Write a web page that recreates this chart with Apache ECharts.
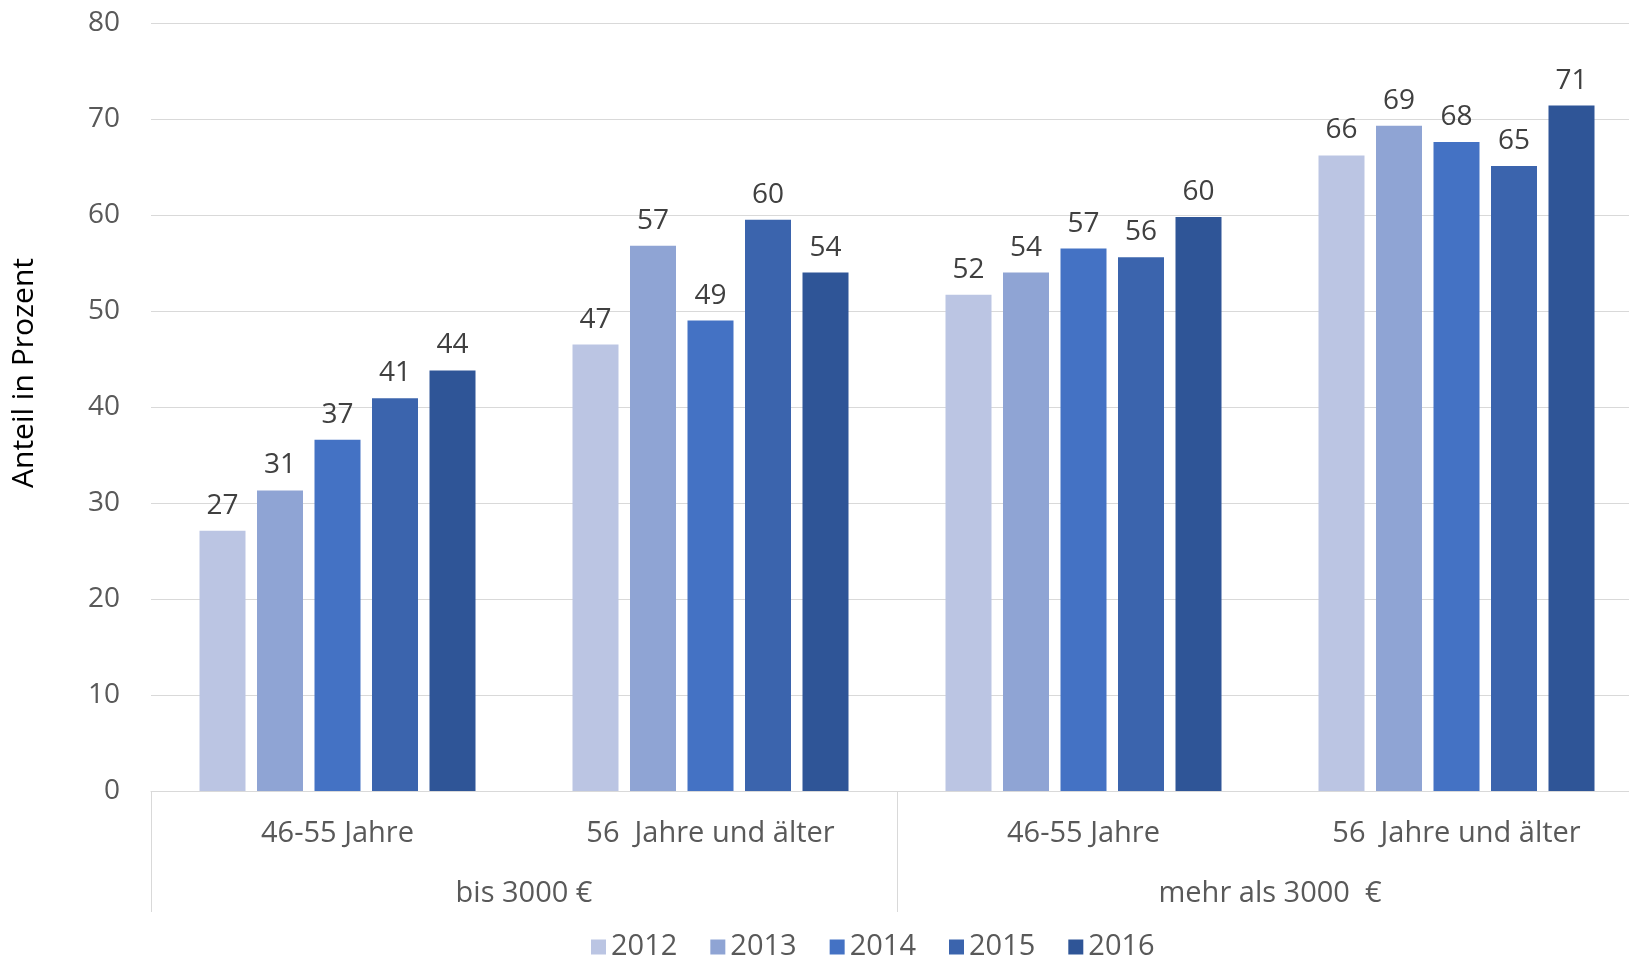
<!DOCTYPE html>
<html>
<head>
    <meta charset="UTF-8">
    <title>Anteil in Prozent</title>
    <script src="https://cdn.jsdelivr.net/npm/echarts@6/dist/echarts.min.js"></script>
    <style>
        html, body { margin: 0; padding: 0; background: #fff; overflow: hidden; }
        /* the last category runs past the right edge in the original, so the chart is a bit wider than the window */
        #chart { width: 1643px; height: 957px; }
    </style>
</head>
<body>
<div id="chart"></div>
<script>
    // Werte
    var ageGroups = ["46-55 Jahre", "56  Jahre und älter", "46-55 Jahre", "56  Jahre und älter"];
    var incomeGroups = ["bis 3000 €", "mehr als 3000  €"];
    var years = ["2012", "2013", "2014", "2015", "2016"];
    var colors = ["#bbc5e3", "#8fa4d4", "#4472c4", "#3b64ad", "#2f5597"];

    var v2012 = [27.1, 46.5, 51.7, 66.2];
    var v2013 = [31.3, 56.8, 54.0, 69.3];
    var v2014 = [36.6, 49.0, 56.5, 67.6];
    var v2015 = [40.9, 59.5, 55.6, 65.1];
    var v2016 = [43.8, 54.0, 59.8, 71.4];
    var values = [v2012, v2013, v2014, v2015, v2016];

    var yTicks = {min: 0, max: 80, interval: 10};

    var font = "Open Sans";
    var numSize = 28;
    var textSize = 29;

    var series = years.map(function (y, i) {
        return {
            name: y,
            type: "bar",
            xAxisIndex: 0,
            data: values[i],
            barWidth: 46,
            barGap: "25%",
            itemStyle: {color: colors[i]},
            label: {
                show: true,
                position: "top",
                distance: 11,
                color: "#404040",
                fontSize: numSize,
                fontFamily: font,
                formatter: function (p) { return Math.round(p.value); }
            }
        };
    });

    var chart = echarts.init(document.getElementById("chart"), null, {renderer: "canvas"});
    chart.setOption({
        animation: false,
        backgroundColor: "#ffffff",
        textStyle: {fontFamily: font},
        grid: {left: 151, top: 23, right: 0, height: 768},
        legend: {
            data: years,
            left: 591,
            top: 932,
            padding: 0,
            itemWidth: 15,
            itemHeight: 15,
            itemGap: 33,
            icon: "rect",
            textStyle: {color: "#595959", fontSize: textSize, fontFamily: font, lineHeight: 30}
        },
        xAxis: [{
            type: "category",
            data: ageGroups,
            position: "bottom",
            axisLine: {show: true, lineStyle: {color: "#d9d9d9", width: 1}},
            axisTick: {show: false},
            axisLabel: {color: "#595959", fontSize: textSize, fontFamily: font, margin: 28, interval: 0}
        }, {
            type: "category",
            data: incomeGroups,
            position: "bottom",
            axisLine: {show: false},
            axisTick: {show: true, length: 121, interval: 0, lineStyle: {color: "#d9d9d9", width: 1}},
            axisLabel: {color: "#595959", fontSize: textSize, fontFamily: font, margin: 88, interval: 0}
        }],
        yAxis: {
            type: "value",
            min: yTicks.min,
            max: yTicks.max,
            interval: yTicks.interval,
            name: "Anteil in Prozent",
            nameLocation: "middle",
            nameGap: 112,
            nameTextStyle: {color: "#000000", fontSize: 30, fontFamily: font, padding: [0, 0, 0, 68]},
            axisLine: {show: false},
            axisTick: {show: false},
            axisLabel: {color: "#595959", fontSize: numSize, fontFamily: font, margin: 31},
            splitLine: {lineStyle: {color: "#d9d9d9", width: 1}}
        },
        series: series
    });
</script>
</body>
</html>
